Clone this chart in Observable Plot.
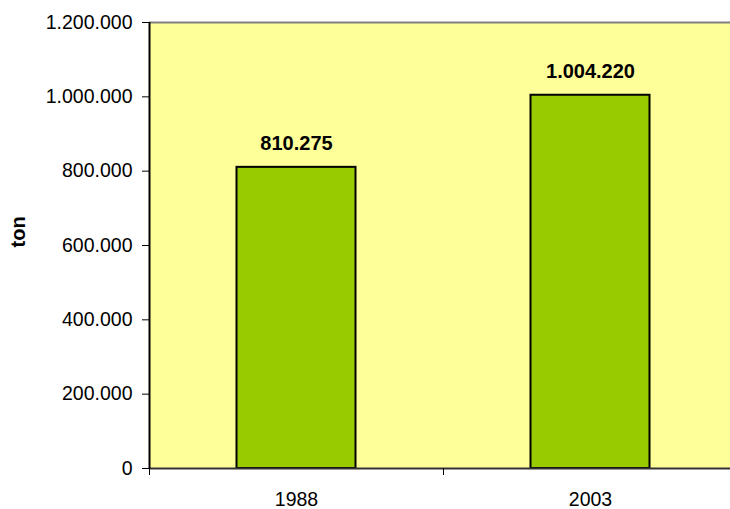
<!DOCTYPE html>
<html><head><meta charset="utf-8">
<script src="https://cdn.jsdelivr.net/npm/d3@7"></script>
<script src="https://cdn.jsdelivr.net/npm/@observablehq/plot@0.6"></script>
<style>body{margin:0;background:#fff;} svg{display:block;}</style>
</head><body><div id="chart"></div>
<script>
const years = ["1988", "2003"];
const values = [810275, 1004220];
const yTicks = [0, 200000, 400000, 600000, 800000, 1000000, 1200000];

const data = years.map((y, i) => ({year: y, i, value: values[i]}));
const fmt = v => d3.format(",")(v).replace(/,/g, ".");

const chart = Plot.plot({
  width: 730,
  height: 509,
  marginLeft: 149,
  marginRight: 0,
  marginTop: 22,
  marginBottom: 41,
  style: {fontFamily: "Liberation Sans, Arial, sans-serif", fontSize: "19.5px", color: "#000", background: "#fff"},
  x: {type: "linear", domain: [0, 2], range: [149, 737], axis: null},
  y: {domain: [0, 1200000], axis: null},
  marks: [
    Plot.frame({fill: "#FFFF99", stroke: null}),
    Plot.ruleY([1200000], {stroke: "#808080", strokeWidth: 2}),
    Plot.rectY(data, {x1: "i", x2: d => d.i + 1, y: "value", fill: "#99CC00", stroke: "#000", strokeWidth: 2, insetLeft: 87.5, insetRight: 87.5}),
    Plot.ruleY([0], {stroke: "#333", strokeWidth: 2}),
    Plot.ruleX([0], {stroke: "#000", strokeWidth: 2}),
    Plot.axisY({ticks: yTicks, tickFormat: fmt, tickSize: 7, tickPadding: 10, fontSize: 19.5, stroke: "#000", label: null}),
    Plot.axisX({ticks: [0, 1, 2], tickFormat: () => "", tickSize: 7, stroke: "#000", label: null}),
    Plot.text(data, {x: d => d.i + 0.5, y: 0, text: "year", dy: 31, fontSize: 19.5}),
    Plot.text(data, {x: d => d.i + 0.5, y: "value", text: d => fmt(d.value), dy: -24, fontSize: 20, fontWeight: "bold"}),
    Plot.text(["ton"], {frameAnchor: "left", dx: -130.5, dy: 2, rotate: -90, fontWeight: "bold", fontSize: 20, text: d => d})
  ]
});
document.getElementById("chart").appendChild(chart);
</script></body></html>
